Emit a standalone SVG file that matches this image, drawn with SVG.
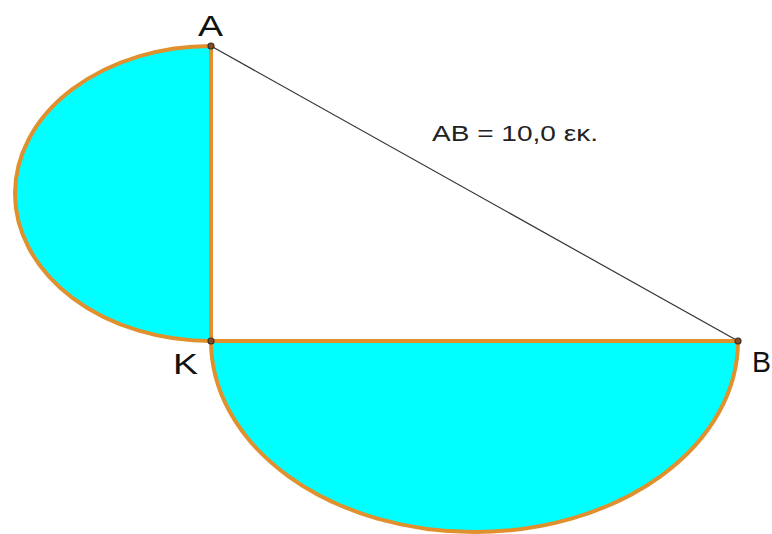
<svg xmlns="http://www.w3.org/2000/svg" width="772" height="534" viewBox="0 0 772 534">
<style>
.half{fill:#00ffff;stroke:#e0902c;stroke-width:4}
.side{stroke:#e0902c;stroke-width:4;fill:none}
.pt{fill:#8a4a20;stroke:#333;stroke-width:1.2}
.lbl{font-family:"Liberation Sans",Arial,sans-serif;font-size:29px;fill:#111}
.meas{font-family:"Liberation Sans",Arial,sans-serif;font-size:22px;fill:#222}
</style>
<rect width="772" height="534" fill="#fff"/>
<g id="semi-left"><path class="half" d="M211,46 A196,147.5 0 0 0 211,341 Z"/></g>
<g id="semi-bottom"><path class="half" d="M211,341 A263.5,191 0 0 0 738,341 Z"/></g>
<g id="connectors">
<line x1="211" y1="46" x2="738" y2="341" stroke="#333" stroke-width="1.2"/>
<line class="side" x1="211" y1="46" x2="211" y2="341"/>
<line class="side" x1="211" y1="341" x2="738" y2="341"/>
</g>
<g id="point-A"><circle class="pt" cx="211" cy="46" r="3"/><text class="lbl" x="198" y="36" textLength="25" lengthAdjust="spacingAndGlyphs">A</text></g>
<g id="point-K"><circle class="pt" cx="211" cy="341" r="3"/><text class="lbl" x="173" y="374" textLength="25" lengthAdjust="spacingAndGlyphs">K</text></g>
<g id="point-B"><circle class="pt" cx="738" cy="341" r="3"/><text class="lbl" x="752" y="372" textLength="19" lengthAdjust="spacingAndGlyphs">B</text></g>
<g id="measure"><text class="meas" x="432" y="141" textLength="166" lengthAdjust="spacingAndGlyphs">AB = 10,0 εκ.</text></g>
</svg>
